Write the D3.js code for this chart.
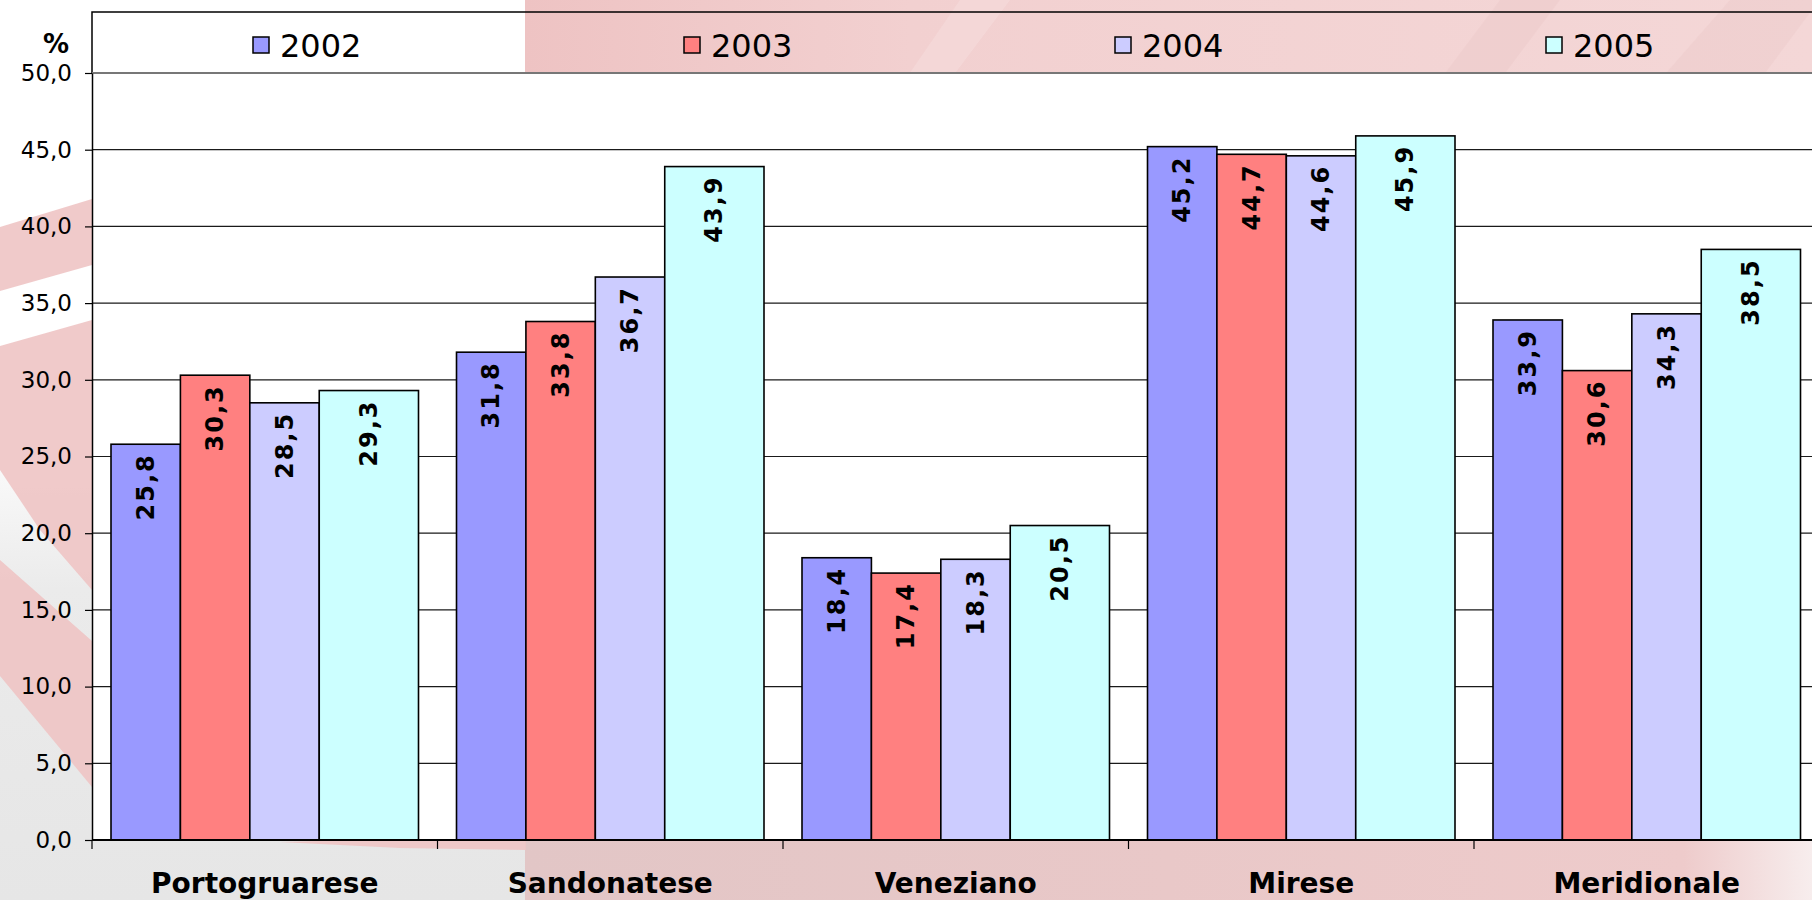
<!DOCTYPE html>
<html>
<head>
<meta charset="utf-8">
<script src="https://cdn.jsdelivr.net/npm/d3@7.9.0/dist/d3.min.js"></script>
<style>
  html, body { margin: 0; padding: 0; background: #fff; }
  svg { display: block; font-family: "DejaVu Sans", Verdana, sans-serif; }
</style>
</head>
<body>
<svg id="chart" width="1812" height="900"></svg>
<script>
/* ---------------- Data ---------------- */

const categories = ['Portogruarese', 'Sandonatese', 'Veneziano', 'Mirese', 'Meridionale'];
const years = ['2002', '2003', '2004', '2005'];

const values2002 = [25.8, 31.8, 18.4, 45.2, 33.9];
const values2003 = [30.3, 33.8, 17.4, 44.7, 30.6];
const values2004 = [28.5, 36.7, 18.3, 44.6, 34.3];
const values2005 = [29.3, 43.9, 20.5, 45.9, 38.5];

const yTicks = [0, 5, 10, 15, 20, 25, 30, 35, 40, 45, 50];
const yUnit = '%';

/* ---------------- Layout & style ---------------- */

const W = 1812, H = 900;
const plot = { left: 92, top: 73, bottom: 840, step: 345.5 };
const colors = ['#9999ff', '#ff8080', '#ccccff', '#ccffff'];
// Last series is drawn wider in the original
const barWeights = [1, 1, 1, 1.43];

const series = [values2002, values2003, values2004, values2005];
const fmt = d => d3.format('.1f')(d).replace('.', ',');

const svg = d3.select('#chart');
const defs = svg.append('defs');

function gradient(id, stops, vertical) {
    const g = defs.append('linearGradient').attr('id', id)
        .attr('x1', 0).attr('y1', 0)
        .attr('x2', vertical ? 0 : 1).attr('y2', vertical ? 1 : 0);
    stops.forEach(([o, c]) => g.append('stop').attr('offset', o).attr('stop-color', c));
}

/* ---------------- Slide background ---------------- */

gradient('greyFade', [[0, '#ffffff'], [0.35, '#ebebeb'], [1, '#e6e6e6']], true);
gradient('pinkTop', [[0, '#eec3c3'], [0.3, '#f2d0d0'], [1, '#f4d7d7']], false);
gradient('pinkBottom', [[0, '#e2c6c6'], [0.5, '#e9c8c8'], [0.9, '#eecbcb'], [1, '#f7eded']], false);

svg.append('rect').attr('width', W).attr('height', H).attr('fill', '#fff');
svg.append('rect').attr('x', 0).attr('y', 420).attr('width', 530).attr('height', 480)
    .attr('fill', 'url(#greyFade)');
svg.append('rect').attr('x', 525).attr('y', 0).attr('width', W - 525).attr('height', 80)
    .attr('fill', 'url(#pinkTop)');
svg.append('rect').attr('x', 525).attr('y', 835).attr('width', W - 525).attr('height', 65)
    .attr('fill', 'url(#pinkBottom)');

// diagonal streaks in the pink ribbon
const streaks = [
    [[905, 80], [960, 0], [1010, 0], [950, 80]],
    [[1440, 80], [1500, 0], [1560, 0], [1500, 80]],
    [[1660, 80], [1730, 0], [1812, 0], [1812, 10], [1760, 80]]
];
svg.selectAll('path.streak').data(streaks).join('path')
    .attr('class', 'streak')
    .attr('d', d => d3.line()(d) + 'Z')
    .attr('fill', (d, i) => i === 0 ? '#ffffff' : '#e9c2c2')
    .attr('opacity', (d, i) => i === 0 ? 0.15 : 0.3);

// pink swooshes on the left margin
const swooshes = [
    [[0, 227], [92, 199], [92, 265], [0, 291]],
    [[0, 346], [92, 320], [92, 590], [40, 530], [0, 470]],
    [[0, 560], [92, 641], [92, 787], [0, 676]],
    [[280, 842], [420, 838], [526, 836], [526, 850], [400, 848]]
];
svg.selectAll('path.swoosh').data(swooshes).join('path')
    .attr('class', 'swoosh')
    .attr('d', d => d3.line().curve(d3.curveLinearClosed)(d))
    .attr('fill', '#eec4c4')
    .attr('opacity', 0.9);

/* ---------------- Scales ---------------- */

const x = d3.scaleBand()
    .domain(categories)
    .range([plot.left, plot.left + plot.step * categories.length])
    .paddingInner(0.11)
    .paddingOuter(0.055);

const y = d3.scaleLinear().domain([0, 50]).range([plot.bottom, plot.top]);

const weightSum = d3.sum(barWeights);
const cum = d3.cumsum([0, ...barWeights]);
const inner = d3.scaleLinear().domain([0, weightSum]).range([0, x.bandwidth()]);

/* ---------------- Plot area & grid ---------------- */

svg.append('rect')
    .attr('x', plot.left).attr('y', plot.top)
    .attr('width', W - plot.left).attr('height', plot.bottom - plot.top)
    .attr('fill', '#fff');

svg.append('g').selectAll('line').data(yTicks.filter(t => t > 0)).join('line')
    .attr('x1', plot.left).attr('x2', W)
    .attr('y1', d => y(d)).attr('y2', d => y(d))
    .attr('stroke', '#1a1a1a').attr('stroke-width', 1.2);

/* ---------------- Legend box ---------------- */

svg.append('path')
    .attr('d', `M${W + 2},12 H${plot.left} V${plot.top}`)
    .attr('fill', 'none').attr('stroke', '#000').attr('stroke-width', 1.5);
svg.append('line')
    .attr('x1', plot.left).attr('x2', W).attr('y1', plot.top).attr('y2', plot.top)
    .attr('stroke', '#777').attr('stroke-width', 2.2);

const legendX = d3.scaleLinear().domain([0, 1]).range([253, 684]);
const legend = svg.append('g').selectAll('g').data(years).join('g')
    .attr('transform', (d, i) => `translate(${legendX(i)},45)`);
legend.append('rect')
    .attr('x', 0).attr('y', -8).attr('width', 16).attr('height', 16)
    .attr('fill', (d, i) => colors[i]).attr('stroke', '#000').attr('stroke-width', 1.5);
legend.append('text')
    .attr('x', 27).attr('dy', '0.36em')
    .attr('font-size', 32)
    .text(d => d);

/* ---------------- Bars ---------------- */

const groups = svg.append('g').selectAll('g').data(categories).join('g')
    .attr('transform', c => `translate(${x(c)},0)`);

groups.each(function (c, ci) {
    const g = d3.select(this);
    const bars = series.map((vals, si) => ({
        value: vals[ci],
        si,
        x0: inner(cum[si]),
        w: inner(cum[si + 1]) - inner(cum[si])
    }));

    g.selectAll('rect').data(bars).join('rect')
        .attr('x', d => d.x0)
        .attr('y', d => y(d.value))
        .attr('width', d => d.w)
        .attr('height', d => plot.bottom - y(d.value))
        .attr('fill', d => colors[d.si])
        .attr('stroke', '#000').attr('stroke-width', 1.6);

    g.selectAll('text').data(bars).join('text')
        .attr('transform', d => `translate(${d.x0 + d.w / 2},${y(d.value) + 9}) rotate(-90)`)
        .attr('text-anchor', 'end')
        .attr('dominant-baseline', 'central')
        .attr('font-size', 24).attr('font-weight', 'bold')
        .attr('letter-spacing', 2)
        .text(d => fmt(d.value));
});

/* ---------------- Axes ---------------- */

const yAxis = svg.append('g')
    .attr('transform', `translate(${plot.left},0)`)
    .call(d3.axisLeft(y).tickValues(yTicks).tickSize(7).tickSizeOuter(0).tickPadding(13).tickFormat(fmt));
yAxis.select('.domain').attr('stroke', '#000').attr('stroke-width', 1.5);
yAxis.selectAll('.tick line').attr('stroke', '#000').attr('stroke-width', 1.2);
yAxis.selectAll('.tick text')
    .attr('font-family', '"DejaVu Sans", Verdana, sans-serif')
    .attr('font-size', 23).attr('fill', '#000');

// category axis line and boundary ticks
svg.append('line')
    .attr('x1', plot.left).attr('x2', W).attr('y1', plot.bottom).attr('y2', plot.bottom)
    .attr('stroke', '#000').attr('stroke-width', 2);

const bounds = categories.map(c => x(c) - x.step() * x.paddingOuter());
svg.append('g').selectAll('line').data(bounds).join('line')
    .attr('x1', d => d).attr('x2', d => d)
    .attr('y1', plot.bottom).attr('y2', plot.bottom + 9)
    .attr('stroke', '#000').attr('stroke-width', 1.2);

svg.append('g').selectAll('text').data(categories).join('text')
    .attr('x', c => x(c) + x.bandwidth() / 2)
    .attr('y', 893)
    .attr('text-anchor', 'middle')
    .attr('font-size', 28).attr('font-weight', 'bold')
    .text(c => c);

svg.append('text')
    .attr('x', 56).attr('y', 44)
    .attr('text-anchor', 'middle').attr('dominant-baseline', 'central')
    .attr('font-size', 26).attr('font-weight', 'bold')
    .text(yUnit);
</script>
</body>
</html>
